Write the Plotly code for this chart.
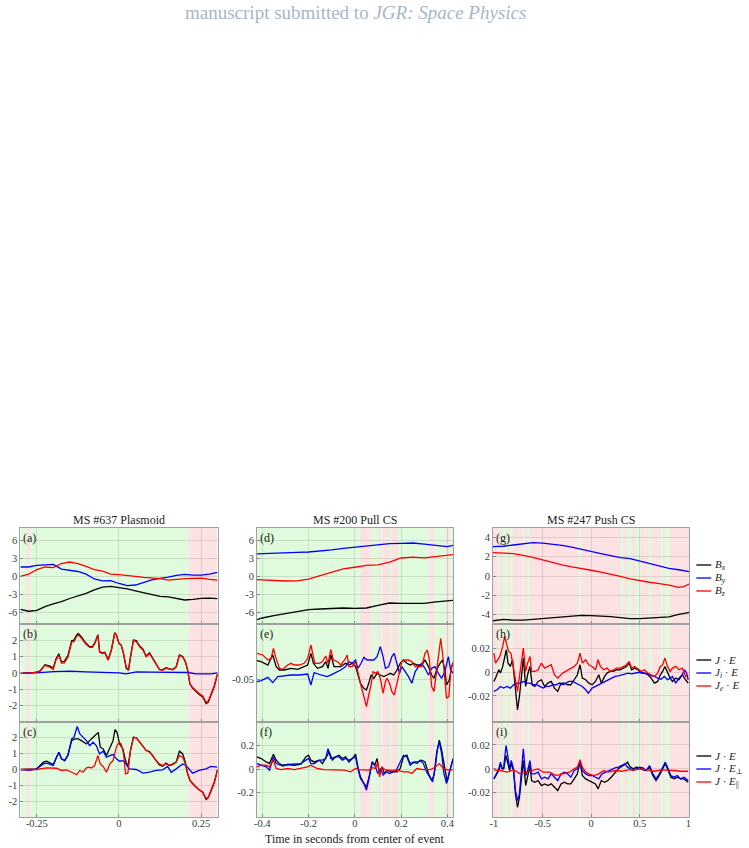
import plotly.graph_objects as go

# ---------------- data ----------------
# Column 1: MS #637 Plasmoid
T_A = [-0.3,-0.275,-0.25,-0.225,-0.2,-0.175,-0.15,-0.125,-0.1,-0.075,-0.05,-0.025,0,0.025,0.05,0.075,0.1,0.125,0.15,0.175,0.2,0.225,0.25,0.275,0.3]
BX_A = [-5.55,-5.87,-5.72,-5.1,-4.63,-4.28,-3.75,-3.3,-2.9,-2.3,-1.86,-1.73,-1.88,-2.14,-2.47,-2.8,-3.1,-3.4,-3.49,-3.78,-4.0,-3.9,-3.73,-3.69,-3.77]
BY_A = [1.5,1.5,1.78,1.92,1.94,1.15,1.0,0.75,0.3,-0.5,-0.8,-0.78,-1.25,-1.6,-1.5,-1.05,-0.65,-0.38,-0.2,0.11,0.26,0.15,0.16,0.3,0.62]
BZ_A = [-0.06,0.3,1.07,1.5,1.39,2.08,2.33,2.05,1.6,1.05,0.8,0.32,0.23,0.14,-0.05,-0.22,-0.3,-0.45,-0.69,-0.52,-0.44,-0.41,-0.37,-0.56,-0.7]

T_B = [-0.299,-0.271,-0.251,-0.240,-0.225,-0.210,-0.200,-0.192,-0.183,-0.175,-0.167,-0.155,-0.144,-0.137,-0.129,-0.124,-0.114,-0.101,-0.089,-0.081,-0.074,-0.064,-0.059,-0.051,-0.043,-0.033,-0.023,-0.013,-0.008,0,0.007,0.014,0.022,0.029,0.035,0.044,0.053,0.063,0.073,0.083,0.093,0.103,0.113,0.123,0.133,0.143,0.154,0.164,0.174,0.184,0.194,0.202,0.209,0.216,0.224,0.234,0.244,0.255,0.265,0.272,0.280,0.290,0.300]
JE_B = [0,-0.02,0.04,0.12,0.5,0.41,0.29,0.85,1.17,0.69,0.69,1.08,1.97,2.01,2.31,2.42,2.21,1.83,1.61,1.61,1.82,2.34,1.31,1.23,1.26,0.8,1.42,2.46,2.35,1.81,1.69,1.15,0.29,0.15,0.96,2.02,1.98,1.65,1.45,1.02,1.23,0.91,0.59,0.22,0.18,0.31,0.25,0.21,0.37,1.1,1.0,0.69,0.17,-0.69,-0.93,-1.16,-1.33,-1.48,-1.89,-1.79,-1.37,-0.84,-0.06]
JEE_B = [0,-0.02,0.04,0.1,0.46,0.35,0.21,0.77,1.08,0.6,0.6,0.98,1.88,1.92,2.23,2.33,2.13,1.77,1.56,1.56,1.77,2.29,1.27,1.19,1.23,0.77,1.4,2.44,2.33,1.81,1.71,1.19,0.35,0.19,0.98,1.98,1.92,1.6,1.4,0.98,1.19,0.875,0.56,0.19,0.15,0.29,0.23,0.19,0.35,1.08,0.98,0.67,0.15,-0.69,-0.9,-1.1,-1.27,-1.42,-1.83,-1.73,-1.31,-0.79,-0.06]
T_BI = [-0.3,-0.25,-0.2,-0.15,-0.1,-0.05,0,0.022,0.053,0.1,0.15,0.21,0.234,0.28,0.3]
JIE_B = [0,0,0.08,0.1,0.06,0.04,0,-0.06,0.06,0.04,0.02,0.02,-0.06,-0.06,0]

T_CK = [-0.299,-0.251,-0.230,-0.220,-0.200,-0.192,-0.183,-0.175,-0.165,-0.155,-0.144,-0.134,-0.124,-0.114,-0.099,-0.084,-0.069,-0.063,-0.057,-0.048,-0.038,-0.028,-0.018,-0.012,-0.006,0.002,0.012,0.020,0.027,0.035,0.044,0.053,0.063,0.073,0.083,0.093,0.103,0.113,0.123,0.133,0.143,0.154,0.164,0.174,0.184,0.194,0.202,0.209,0.216,0.224,0.234,0.244,0.255,0.265,0.272,0.280,0.290,0.300]
JE_C = [0,0.04,0.46,0.52,0.31,0.67,1.08,0.67,0.56,0.94,1.81,1.92,1.92,1.81,1.6,1.92,2.23,2.33,1.4,1.29,0.875,1.4,1.81,2.5,2.33,1.6,1.29,0.56,0.15,1.19,2.02,1.98,1.71,1.5,1.19,1.13,0.875,0.56,0.29,0.21,0.4,0.25,0.35,0.46,1.15,0.98,0.46,-0.27,-0.69,-0.9,-1.1,-1.27,-1.42,-1.88,-1.77,-1.35,-0.83,0]
T_CB = [-0.299,-0.271,-0.251,-0.230,-0.220,-0.200,-0.192,-0.183,-0.175,-0.165,-0.155,-0.144,-0.137,-0.127,-0.119,-0.109,-0.099,-0.089,-0.079,-0.069,-0.059,-0.048,-0.038,-0.028,-0.018,-0.008,0.002,0.012,0.022,0.032,0.053,0.073,0.093,0.113,0.133,0.148,0.159,0.174,0.194,0.204,0.214,0.224,0.244,0.265,0.280,0.300]
JEP_C = [0,-0.06,0.04,0.35,0.4,0.25,0.67,1.08,0.67,0.56,0.875,1.92,2.02,2.7,2.23,2.02,1.81,1.5,1.71,1.5,0.98,1.15,0.77,0.875,0.94,0.67,0.52,0.56,0.35,0.04,0,-0.23,-0.17,-0.06,-0.02,0.19,-0.17,0.04,0.35,0.25,0.04,-0.23,-0.06,0.04,0.19,0.15]
T_CR = [-0.299,-0.251,-0.220,-0.190,-0.175,-0.160,-0.144,-0.129,-0.119,-0.109,-0.099,-0.091,-0.084,-0.074,-0.064,-0.057,-0.048,-0.038,-0.028,-0.018,-0.008,0,0.007,0.014,0.020,0.027,0.035,0.044,0.053,0.063,0.073,0.083,0.093,0.103,0.113,0.123,0.133,0.143,0.154,0.164,0.174,0.184,0.194,0.202,0.209,0.216,0.224,0.234,0.244,0.255,0.265,0.272,0.280,0.290,0.300]
JEPAR_C = [0,0,0.1,0.08,-0.06,-0.02,-0.17,-0.33,-0.06,-0.17,0.1,0.15,0.1,0.25,0.875,0.35,0.19,-0.17,0.35,0.56,1.4,1.71,1.6,0.98,-0.27,-0.23,1.19,2.02,1.98,1.71,1.5,1.19,1.08,0.875,0.56,0.35,0.25,0.35,0.25,0.31,0.46,0.875,0.77,0.35,-0.27,-0.69,-0.9,-1.1,-1.27,-1.42,-1.83,-1.73,-1.31,-0.79,-0.06]

# Column 2: MS #200 Pull CS
T_D = [-0.425,-0.4,-0.35,-0.3,-0.25,-0.2,-0.15,-0.1,-0.05,0,0.05,0.1,0.15,0.2,0.25,0.3,0.35,0.4,0.425]
BX_D = [-7.3,-7.0,-6.6,-6.3,-5.95,-5.6,-5.5,-5.4,-5.33,-5.4,-5.33,-4.9,-4.5,-4.55,-4.6,-4.55,-4.3,-4.1,-4.05]
BY_D = [3.7,3.75,3.85,3.9,3.95,4.0,4.15,4.35,4.6,4.8,5.05,5.25,5.4,5.45,5.5,5.3,5.05,4.9,5.1]
BZ_D = [-0.6,-0.65,-0.72,-0.83,-0.8,-0.53,0.05,0.6,1.2,1.46,1.76,1.85,2.3,3.0,3.16,3.03,3.2,3.45,3.56]

T_EK = [-0.423,-0.405,-0.376,-0.355,-0.340,-0.326,-0.305,-0.276,-0.247,-0.219,-0.204,-0.190,-0.179,-0.162,-0.140,-0.126,-0.116,-0.104,-0.090,-0.061,-0.040,-0.026,-0.011,0.003,0.013,0.024,0.039,0.050,0.060,0.070,0.082,0.096,0.110,0.125,0.139,0.153,0.168,0.182,0.196,0.210,0.225,0.239,0.253,0.268,0.289,0.303,0.318,0.332,0.342,0.353,0.368,0.379,0.389,0.396,0.408,0.418,0.425]
JE_E = [-0.0313,-0.0323,-0.0357,-0.0257,-0.0373,-0.0407,-0.0407,-0.039,-0.04,-0.0373,-0.0357,-0.024,-0.034,-0.039,-0.0373,-0.0323,-0.039,-0.0257,-0.0373,-0.0373,-0.034,-0.0357,-0.034,-0.0373,-0.0457,-0.054,-0.059,-0.0607,-0.054,-0.0457,-0.049,-0.044,-0.0457,-0.0473,-0.0457,-0.044,-0.0457,-0.0407,-0.034,-0.0307,-0.034,-0.0357,-0.034,-0.0357,-0.0357,-0.0307,-0.0373,-0.0457,-0.049,-0.0407,-0.034,-0.0307,-0.0407,-0.0557,-0.0507,-0.0373,-0.034]
T_EB = [-0.423,-0.405,-0.376,-0.355,-0.333,-0.312,-0.276,-0.240,-0.204,-0.190,-0.176,-0.147,-0.119,-0.090,-0.061,-0.040,-0.026,-0.011,0.003,0.013,0.027,0.039,0.053,0.070,0.082,0.096,0.110,0.122,0.132,0.146,0.160,0.170,0.182,0.193,0.203,0.218,0.232,0.246,0.261,0.275,0.289,0.303,0.318,0.332,0.346,0.361,0.375,0.389,0.404,0.414,0.425]
JIE_E = [-0.0523,-0.0513,-0.048,-0.0533,-0.0473,-0.0467,-0.0457,-0.0457,-0.0447,-0.0557,-0.0433,-0.0457,-0.0473,-0.044,-0.0407,-0.0373,-0.0323,-0.034,-0.0307,-0.039,-0.034,-0.028,-0.0307,-0.0307,-0.0307,-0.0273,-0.0173,-0.0273,-0.039,-0.0373,-0.0273,-0.024,-0.034,-0.044,-0.0373,-0.0423,-0.0473,-0.054,-0.0423,-0.0373,-0.034,-0.039,-0.0457,-0.039,-0.0373,-0.044,-0.049,-0.0423,-0.0273,-0.0407,-0.044]
T_ER = [-0.423,-0.398,-0.376,-0.362,-0.352,-0.343,-0.326,-0.312,-0.290,-0.276,-0.262,-0.240,-0.219,-0.204,-0.190,-0.183,-0.173,-0.154,-0.140,-0.126,-0.116,-0.104,-0.093,-0.076,-0.061,-0.044,-0.033,-0.026,-0.011,0.003,0.013,0.024,0.039,0.050,0.060,0.070,0.079,0.089,0.099,0.110,0.122,0.132,0.139,0.150,0.160,0.170,0.182,0.193,0.203,0.218,0.232,0.246,0.261,0.275,0.289,0.303,0.313,0.322,0.332,0.342,0.353,0.361,0.371,0.379,0.389,0.396,0.406,0.415,0.425]
JEE_E = [-0.024,-0.0257,-0.0307,-0.029,-0.019,-0.0273,-0.039,-0.04,-0.0357,-0.034,-0.0357,-0.0357,-0.034,-0.029,-0.0157,-0.024,-0.034,-0.034,-0.0323,-0.0267,-0.034,-0.02,-0.0307,-0.0323,-0.0357,-0.0307,-0.0257,-0.0373,-0.0373,-0.0323,-0.044,-0.054,-0.0673,-0.0773,-0.0657,-0.0557,-0.0423,-0.044,-0.0423,-0.049,-0.064,-0.0523,-0.049,-0.054,-0.0623,-0.0657,-0.054,-0.044,-0.0323,-0.0307,-0.0307,-0.0323,-0.0373,-0.0373,-0.0373,-0.024,-0.0207,-0.0307,-0.0573,-0.0623,-0.044,-0.0273,-0.009,-0.024,-0.049,-0.069,-0.0673,-0.0407,-0.0323]

T_FK = [-0.423,-0.405,-0.383,-0.369,-0.352,-0.340,-0.326,-0.312,-0.290,-0.262,-0.233,-0.212,-0.200,-0.190,-0.176,-0.154,-0.140,-0.126,-0.111,-0.097,-0.083,-0.069,-0.054,-0.040,-0.026,-0.011,0.003,0.013,0.024,0.039,0.050,0.060,0.075,0.086,0.096,0.106,0.117,0.127,0.139,0.153,0.168,0.182,0.196,0.210,0.225,0.235,0.246,0.261,0.275,0.289,0.303,0.318,0.332,0.342,0.353,0.365,0.375,0.389,0.399,0.411,0.425]
JE_F = [0.105,0.091,0.062,0.048,0.128,0.077,0.048,0.034,0.04,0.034,0.043,0.105,0.119,0.077,0.062,0.077,0.048,0.091,0.148,0.077,0.105,0.119,0.091,0.105,0.062,0.091,0.128,0.02,-0.065,-0.122,-0.15,-0.079,0.062,0.034,0.091,-0.037,0.02,-0.037,-0.0085,-0.023,-0.023,-0.023,0.006,0.105,0.119,0.062,0.048,0.062,0.062,0.077,0.062,-0.037,-0.094,-0.051,0.133,0.247,0.162,0.006,-0.108,-0.0085,0.091]
T_FB = [-0.423,-0.405,-0.383,-0.369,-0.352,-0.340,-0.326,-0.312,-0.290,-0.262,-0.233,-0.212,-0.200,-0.190,-0.176,-0.154,-0.140,-0.126,-0.116,-0.104,-0.083,-0.069,-0.054,-0.040,-0.026,-0.011,0.003,0.013,0.024,0.039,0.050,0.060,0.075,0.089,0.099,0.110,0.122,0.136,0.150,0.165,0.179,0.193,0.210,0.225,0.239,0.253,0.268,0.282,0.296,0.310,0.325,0.336,0.348,0.356,0.365,0.375,0.385,0.396,0.411,0.425]
JEP_F = [0.048,0.034,0.02,-0.0085,0.105,0.048,0.034,0.026,0.04,0.043,0.048,0.077,0.091,0.048,0.048,0.077,0.077,0.091,0.176,0.091,0.105,0.105,0.077,0.091,0.077,0.091,0.105,0.006,-0.079,-0.122,-0.179,-0.094,0.062,0.02,-0.037,0.006,-0.051,-0.023,-0.037,-0.023,-0.0085,0.048,0.119,0.105,0.034,0.062,0.048,0.077,0.048,-0.023,-0.079,-0.108,0.02,0.162,0.233,0.133,-0.037,-0.122,-0.0085,0.091]
T_FR = [-0.423,-0.405,-0.383,-0.369,-0.352,-0.340,-0.319,-0.290,-0.262,-0.233,-0.204,-0.190,-0.162,-0.133,-0.104,-0.076,-0.047,-0.018,0.003,0.017,0.046,0.060,0.075,0.089,0.099,0.107,0.117,0.132,0.153,0.182,0.210,0.232,0.246,0.268,0.296,0.325,0.346,0.365,0.382,0.404,0.425]
JEPAR_F = [0.02,0.034,0.034,0.02,0.077,0.006,-0.003,0.006,-0.003,0.006,0.02,0.034,0.006,-0.003,-0.003,-0.003,-0.0085,-0.023,0.006,-0.003,-0.003,-0.0085,0.014,0.006,0.062,-0.065,0.02,-0.0085,-0.0085,-0.0085,-0.023,-0.023,-0.037,0.006,-0.003,-0.003,0.014,0.048,0.006,-0.0085,-0.003]

# Column 3: MS #247 Push CS
T_G = [-1.01,-0.9,-0.8,-0.7,-0.6,-0.5,-0.4,-0.3,-0.2,-0.1,0,0.1,0.2,0.3,0.4,0.5,0.6,0.7,0.8,0.9,0.95,1.01]
BX_G = [-4.66,-4.52,-4.6,-4.6,-4.52,-4.45,-4.33,-4.24,-4.17,-4.1,-4.13,-4.17,-4.23,-4.33,-4.45,-4.45,-4.38,-4.35,-4.25,-4.0,-3.88,-3.79]
BY_G = [3.06,3.1,3.23,3.34,3.48,3.42,3.32,3.2,3.0,2.8,2.54,2.34,2.12,1.92,1.8,1.55,1.35,1.05,0.8,0.65,0.55,0.45]
BZ_G = [2.43,2.4,2.33,2.15,1.95,1.67,1.4,1.15,0.95,0.8,0.6,0.4,0.2,-0.05,-0.3,-0.5,-0.65,-0.8,-0.95,-1.18,-1.1,-0.83]

T_HK = [-1.001,-0.984,-0.950,-0.934,-0.910,-0.890,-0.873,-0.856,-0.832,-0.809,-0.782,-0.758,-0.738,-0.715,-0.698,-0.674,-0.654,-0.630,-0.607,-0.580,-0.546,-0.512,-0.479,-0.445,-0.411,-0.378,-0.344,-0.310,-0.276,-0.243,-0.209,-0.175,-0.142,-0.115,-0.091,-0.057,-0.024,0.010,0.044,0.078,0.104,0.138,0.162,0.195,0.229,0.263,0.297,0.330,0.364,0.391,0.415,0.448,0.482,0.516,0.549,0.583,0.617,0.651,0.684,0.711,0.735,0.758,0.785,0.812,0.836,0.870,0.903,0.937,0.971,0.998]
JE_H = [-0.0078,-0.005,0.002,-0.0008,0.0048,0.0132,0.0188,0.0076,0.0048,0.0104,-0.012,-0.0317,-0.0204,0.002,0.0118,-0.012,-0.0022,0.0048,-0.0106,-0.012,-0.0078,-0.0064,-0.012,-0.0092,-0.0078,-0.0134,-0.0162,-0.0092,-0.0092,-0.0106,-0.0106,-0.0064,-0.0022,0.0062,-0.005,-0.0064,-0.0092,-0.0106,-0.0078,-0.0022,-0.0092,-0.0036,-0.0008,0.0006,0.0006,0.002,0.002,0.0034,0.0048,0.0076,0.002,0.0034,0.002,-0.0008,-0.0008,-0.0022,-0.005,-0.0092,-0.0078,-0.0022,0.0006,0.0048,-0.0008,-0.005,-0.0078,-0.005,-0.0064,-0.0022,-0.0064,-0.0092]
T_HB = [-1.001,-0.967,-0.934,-0.900,-0.866,-0.832,-0.799,-0.765,-0.731,-0.698,-0.664,-0.630,-0.597,-0.563,-0.529,-0.495,-0.462,-0.428,-0.394,-0.361,-0.327,-0.293,-0.260,-0.226,-0.192,-0.158,-0.125,-0.091,-0.057,-0.030,0.010,0.044,0.078,0.111,0.145,0.179,0.212,0.246,0.280,0.313,0.347,0.381,0.415,0.448,0.482,0.516,0.549,0.583,0.617,0.651,0.684,0.718,0.752,0.785,0.812,0.836,0.870,0.903,0.937,0.961,0.981,0.998]
JIE_H = [-0.0162,-0.0148,-0.012,-0.0134,-0.012,-0.0134,-0.0106,-0.0092,-0.0092,-0.0078,-0.0092,-0.0092,-0.0106,-0.0106,-0.012,-0.0134,-0.012,-0.012,-0.0106,-0.0106,-0.0092,-0.0106,-0.0092,-0.0078,-0.0078,-0.0092,-0.0106,-0.012,-0.0148,-0.0176,-0.0134,-0.012,-0.0106,-0.0092,-0.0078,-0.0064,-0.005,-0.0036,-0.0031,-0.0022,-0.0014,-0.0008,-0.0014,-0.0008,-0.0003,-0.0003,-0.0008,-0.0014,-0.0031,-0.0036,-0.005,-0.0059,-0.0036,-0.0064,-0.005,-0.0036,-0.0092,-0.005,-0.0022,0.002,-0.0008,-0.0064]
T_HR = [-1.001,-0.984,-0.950,-0.934,-0.910,-0.890,-0.873,-0.849,-0.826,-0.809,-0.782,-0.758,-0.738,-0.715,-0.698,-0.674,-0.654,-0.630,-0.613,-0.580,-0.546,-0.512,-0.479,-0.445,-0.411,-0.378,-0.344,-0.293,-0.260,-0.226,-0.175,-0.142,-0.115,-0.091,-0.057,-0.024,0.010,0.044,0.071,0.094,0.128,0.162,0.195,0.229,0.263,0.297,0.330,0.364,0.391,0.415,0.448,0.482,0.516,0.549,0.583,0.617,0.651,0.684,0.711,0.735,0.758,0.785,0.812,0.836,0.870,0.903,0.937,0.971,0.998]
JEE_H = [0.016,0.0076,0.0118,0.0146,0.0216,0.030,0.0244,0.0174,0.016,0.0076,-0.0036,-0.0162,-0.0036,0.0118,0.0202,0.0006,0.0076,0.0132,0.0006,0.0006,0.002,0.0076,0.0034,0.0048,0.0062,-0.0022,-0.005,-0.0008,0.0006,0.002,0.0048,0.0076,0.016,0.0076,0.0104,0.0062,0.0048,0.002,0.0104,0.0048,0.002,0.0034,0.0006,0.002,0.0034,0.0034,0.0048,0.0062,0.009,0.0034,0.0048,0.0025,0.0006,0.002,-0.0008,-0.0022,-0.0036,-0.0008,0.0048,0.0062,0.0118,0.0048,0.0006,0.0034,0.0048,0.002,0.0034,-0.0036,-0.0022]

T_IK = [-1.001,-0.974,-0.950,-0.934,-0.917,-0.900,-0.876,-0.856,-0.839,-0.822,-0.799,-0.779,-0.758,-0.738,-0.715,-0.698,-0.674,-0.654,-0.630,-0.613,-0.580,-0.546,-0.512,-0.479,-0.445,-0.411,-0.378,-0.344,-0.310,-0.276,-0.243,-0.209,-0.175,-0.142,-0.115,-0.091,-0.057,-0.024,0.010,0.044,0.071,0.104,0.138,0.172,0.206,0.246,0.280,0.313,0.347,0.374,0.398,0.431,0.465,0.499,0.533,0.566,0.600,0.634,0.667,0.701,0.735,0.762,0.785,0.819,0.853,0.886,0.920,0.954,0.998]
JE_I = [-0.0084,-0.0042,-0.0014,0.0042,0,0,0.0112,0.0042,-0.0014,0.0042,-0.0014,-0.021,-0.0322,-0.0238,-0.007,0.007,-0.014,-0.007,0.0028,-0.0098,-0.0112,-0.0098,-0.014,-0.0126,-0.014,-0.0126,-0.0154,-0.0182,-0.0126,-0.0112,-0.0126,-0.0126,-0.0084,-0.0042,0.0056,-0.0056,-0.0084,-0.0098,-0.0112,-0.0126,-0.0168,-0.0098,-0.0112,-0.0098,-0.007,-0.0028,0,0.002,0.0036,0.0056,0.002,0,0.0014,0.0008,-0.0008,-0.0014,0.0014,-0.0056,-0.0098,-0.0056,0,0.0042,0,-0.007,-0.0084,-0.007,-0.0084,-0.0084,-0.0112]
T_IB = [-1.001,-0.974,-0.950,-0.934,-0.917,-0.900,-0.876,-0.856,-0.839,-0.822,-0.799,-0.779,-0.758,-0.738,-0.715,-0.698,-0.674,-0.654,-0.630,-0.613,-0.580,-0.546,-0.512,-0.479,-0.445,-0.411,-0.378,-0.344,-0.310,-0.276,-0.243,-0.209,-0.175,-0.142,-0.115,-0.091,-0.057,-0.024,0.010,0.044,0.078,0.111,0.145,0.179,0.212,0.246,0.280,0.313,0.347,0.374,0.398,0.431,0.465,0.499,0.533,0.566,0.600,0.634,0.667,0.701,0.735,0.762,0.785,0.819,0.853,0.886,0.920,0.954,0.998]
JEP_I = [-0.0084,-0.0042,0,0.0056,0,0.0014,0.0196,0.0098,0,0.007,0,-0.0182,-0.0266,-0.021,-0.0014,0.0168,-0.0056,-0.0014,0.007,-0.0042,-0.0042,-0.0028,-0.0084,-0.007,-0.0084,-0.0042,-0.007,-0.0098,-0.0042,-0.0028,-0.0042,-0.007,-0.0014,0,0.0056,-0.0014,-0.0042,-0.0056,-0.0056,-0.007,-0.0084,-0.0042,-0.0028,-0.0014,0,0.0008,0.0014,0.0028,0.0042,0.0014,0,-0.0014,0,0.0014,0.0008,-0.0014,0.0028,-0.0042,-0.0084,-0.0042,0.0014,0.0056,0.0014,-0.0056,-0.007,-0.0056,-0.0084,-0.007,-0.0098]
T_IR = [-1.001,-0.934,-0.866,-0.799,-0.731,-0.664,-0.597,-0.546,-0.495,-0.428,-0.361,-0.293,-0.226,-0.175,-0.142,-0.115,-0.091,-0.057,-0.024,0.027,0.078,0.128,0.179,0.246,0.313,0.381,0.448,0.516,0.583,0.651,0.718,0.785,0.853,0.920,0.998]
JEPAR_I = [-0.0008,-0.0014,-0.0028,-0.0008,-0.0042,-0.0028,-0.0014,0,-0.0028,-0.0028,-0.0056,-0.0042,-0.0028,0,0.0014,0.0076,0.0014,-0.0028,-0.0042,-0.0056,-0.0042,-0.0014,-0.0028,-0.0014,-0.002,-0.0008,-0.0008,0,-0.0008,-0.002,-0.0008,-0.0008,-0.0014,-0.002,-0.002]

# interval shading (seconds)
PINK_1 = [[-0.281, -0.271], [0.212, 0.298]]
PINK_2 = [[0.024, 0.070], [0.102, 0.110], [0.120, 0.149], [0.158, 0.186], [0.321, 0.343], [0.392, 0.408]]
GREEN_3 = [[-0.961, -0.941], [-0.906, -0.859], [-0.839, -0.809], [-0.704, -0.684], [-0.653, -0.630],
           [-0.131, -0.104], [0.307, 0.334], [0.371, 0.415], [0.455, 0.51], [0.59, 0.624], [0.712, 0.738], [0.758, 0.806]]

TITLES = ["MS #637 Plasmoid", "MS #200 Pull CS", "MS #247 Push CS"]
PANEL_LABELS = ["(a)", "(b)", "(c)", "(d)", "(e)", "(f)", "(g)", "(h)", "(i)"]
X_TICKS = [[-0.25, 0, 0.25], [-0.4, -0.2, 0, 0.2, 0.4], [-1, -0.5, 0, 0.5, 1]]
X_TICKTEXT = [["-0.25", "0", "0.25"], ["-0.4", "-0.2", "0", "0.2", "0.4"], ["-1", "-0.5", "0", "0.5", "1"]]
Y_TICKS = [[-6, -3, 0, 3, 6], [-2, -1, 0, 1, 2], [-2, -1, 0, 1, 2],
           [-6, -3, 0, 3, 6], [-0.05], [-0.2, 0, 0.2],
           [-4, -2, 0, 2, 4], [-0.02, 0, 0.02], [-0.02, 0, 0.02]]
LEGEND_TEXT = [["<i>B<sub>x</sub></i>", "<i>B<sub>y</sub></i>", "<i>B<sub>z</sub></i>"],
               ["<i>J</i> · <i>E</i>", "<i>J<sub>i</sub></i> · <i>E</i>", "<i>J<sub>e</sub></i> · <i>E</i>"],
               ["<i>J</i> · <i>E</i>", "<i>J</i> · <i>E</i><sub>⊥</sub>", "<i>J</i> · <i>E</i><sub>||</sub>"]]

# ---------------- layout constants ----------------
W, H = 749, 848
COL_X = [(17.5, 216.0), (255.7, 453.0), (493.3, 691.0)]
ROW_Y = [(528.0, 624.0), (624.0, 721.7), (721.7, 817.3)]
X_RANGE = [(-0.3, 0.3), (-0.423, 0.424), (-1.01, 1.01)]
Y_RANGE = [(-8, 8), (-3, 3), (-3, 3),
           (-8, 8), (-0.0924, 0.0053), (-0.41, 0.405),
           (-5, 5), (-0.0416, 0.0404), (-0.0406, 0.0395)]
COLORS = ["#000000", "#0000ff", "#ff0000"]
GREEN = "#e0fadd"
PINK = "#fde2e3"
SERIF = "'Liberation Serif', 'DejaVu Serif', serif"

panels = [
    [(T_A, BX_A), (T_A, BY_A), (T_A, BZ_A)],
    [(T_B, JE_B), (T_BI, JIE_B), (T_B, JEE_B)],
    [(T_CK, JE_C), (T_CB, JEP_C), (T_CR, JEPAR_C)],
    [(T_D, BX_D), (T_D, BY_D), (T_D, BZ_D)],
    [(T_EK, JE_E), (T_EB, JIE_E), (T_ER, JEE_E)],
    [(T_FK, JE_F), (T_FB, JEP_F), (T_FR, JEPAR_F)],
    [(T_G, BX_G), (T_G, BY_G), (T_G, BZ_G)],
    [(T_HK, JE_H), (T_HB, JIE_H), (T_HR, JEE_H)],
    [(T_IK, JE_I), (T_IB, JEP_I), (T_IR, JEPAR_I)],
]
col_bg = [GREEN, GREEN, PINK]
col_strips = [(PINK_1, PINK), (PINK_2, PINK), (GREEN_3, GREEN)]

fig = go.Figure()
shapes = []
annotations = []
layout = {}

for k in range(9):
    c, r = k // 3, k % 3
    sfx = "" if k == 0 else str(k + 1)
    xa, ya = "x" + sfx, "y" + sfx
    x0p, x1p = COL_X[c]
    y0p, y1p = ROW_Y[r]
    layout["xaxis" + sfx] = dict(
        domain=[x0p / W, x1p / W], anchor=ya, range=list(X_RANGE[c]),
        tickvals=X_TICKS[c], ticktext=X_TICKTEXT[c], showticklabels=(r == 2),
        ticklabelstandoff=-4,
        showgrid=True, gridcolor="rgba(0,0,0,0.10)", gridwidth=1, zeroline=False,
        showline=True, linecolor="#a0a0a0", linewidth=1, mirror=True,
        ticks="inside", ticklen=3, tickcolor="#8a8a8a",
        tickfont=dict(family=SERIF, size=10.5, color="#3a3a3a"),
    )
    layout["yaxis" + sfx] = dict(
        domain=[1 - y1p / H, 1 - y0p / H], anchor=xa, range=list(Y_RANGE[k]),
        tickvals=Y_TICKS[k], ticktext=["%g" % v for v in Y_TICKS[k]],
        showgrid=True, gridcolor="rgba(0,0,0,0.10)", gridwidth=1, zeroline=False,
        showline=True, linecolor="#a0a0a0", linewidth=1, mirror=True,
        ticks="inside", ticklen=3, tickcolor="#8a8a8a",
        tickfont=dict(family=SERIF, size=10.5, color="#3a3a3a"),
    )
    shapes.append(dict(type="rect", xref=xa, yref=ya + " domain", x0=X_RANGE[c][0], x1=X_RANGE[c][1],
                       y0=0, y1=1, fillcolor=col_bg[c], line=dict(width=0), layer="below"))
    strips, scol = col_strips[c]
    for a, b in strips:
        shapes.append(dict(type="rect", xref=xa, yref=ya + " domain", x0=a, x1=b, y0=0, y1=1,
                           fillcolor=scol, line=dict(width=0), layer="below"))
    for (t, v), colr in zip(panels[k], COLORS):
        fig.add_trace(go.Scatter(x=t, y=v, mode="lines", xaxis=xa, yaxis=ya,
                                 line=dict(color=colr, width=1.3), showlegend=False, hoverinfo="skip"))
    annotations.append(dict(text=PANEL_LABELS[k], xref=xa + " domain", yref=ya + " domain",
                            x=0.004, y=0.99, xanchor="left", yanchor="top", showarrow=False,
                            font=dict(family=SERIF, size=12, color="#222")))

for c in range(3):
    annotations.append(dict(text=TITLES[c], xref="paper", yref="paper",
                            x=(COL_X[c][0] + COL_X[c][1]) / 2 / W, y=1 - 520 / H,
                            xanchor="center", yanchor="middle", showarrow=False,
                            font=dict(family=SERIF, size=12, color="#222")))

annotations.append(dict(text="Time in seconds from center of event", xref="paper", yref="paper",
                        x=(COL_X[1][0] + COL_X[1][1]) / 2 / W, y=1 - 839 / H,
                        xanchor="center", yanchor="middle", showarrow=False,
                        font=dict(family=SERIF, size=12, color="#222")))

annotations.append(dict(text="manuscript submitted to <i>JGR: Space Physics</i>", xref="paper", yref="paper",
                        x=355 / W, y=1 - 12 / H, xanchor="center", yanchor="middle", showarrow=False,
                        font=dict(family=SERIF, size=19, color="#a8b6c4")))

LEG_Y = [[565, 578, 591], [660, 673, 686], [756, 769, 782]]
for r in range(3):
    for j in range(3):
        yy = 1 - LEG_Y[r][j] / H
        shapes.append(dict(type="line", xref="paper", yref="paper", x0=698 / W, x1=713 / W,
                           y0=yy, y1=yy, line=dict(color=COLORS[j], width=1.3)))
        annotations.append(dict(text=LEGEND_TEXT[r][j], xref="paper", yref="paper",
                                x=715 / W, y=yy, xanchor="left", yanchor="middle", showarrow=False,
                                font=dict(family=SERIF, size=11, color="#222")))

fig.update_layout(
    width=W, height=H, margin=dict(l=0, r=0, t=0, b=0),
    paper_bgcolor="white", plot_bgcolor="white",
    shapes=shapes, annotations=annotations, showlegend=False,
    **layout,
)
fig.write_html("out.html")
